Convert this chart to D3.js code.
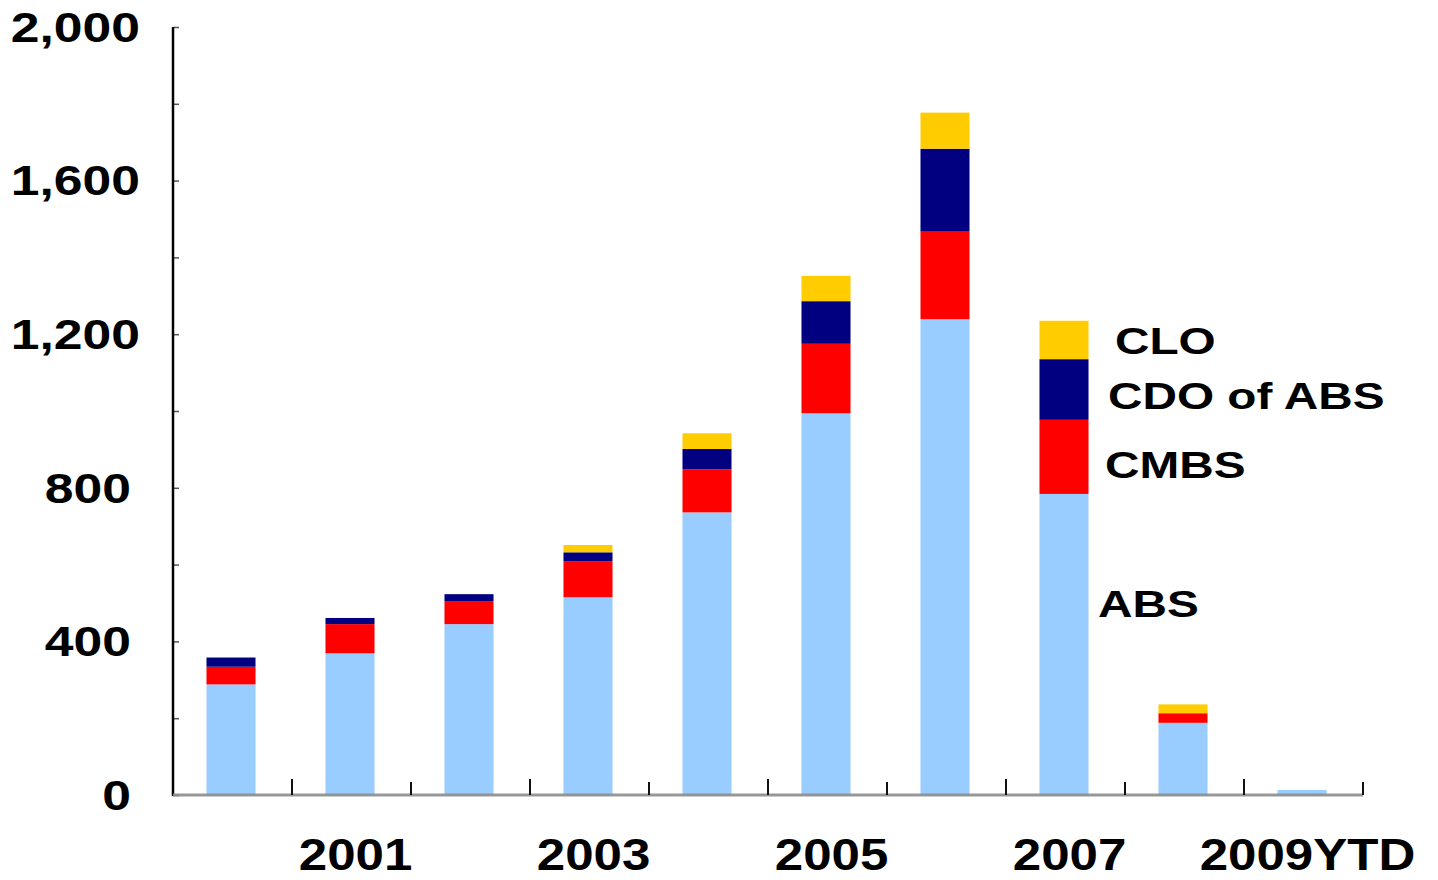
<!DOCTYPE html>
<html>
<head>
<meta charset="utf-8">
<script src="https://cdn.jsdelivr.net/npm/d3@7"></script>
<style>
  html, body { margin: 0; padding: 0; background: #ffffff; }
  svg { display: block; }
  text { font-family: "Liberation Sans", Arial, sans-serif; font-weight: bold; fill: #000; }
</style>
</head>
<body>
<svg id="chart" width="1438" height="880"></svg>
<script>
// ---- data ----
const years = ["2000", "2001", "2002", "2003", "2004", "2005", "2006", "2007", "2008", "2009YTD"];
const xTickLabels = ["2001", "2003", "2005", "2007", "2009YTD"];
const seriesNames = ["ABS", "CMBS", "CDO of ABS", "CLO"];
const absValues  = [288, 369, 445, 515, 736, 994, 1239, 784, 188, 13];
const cmbsValues = [46, 76, 60, 94, 112, 181, 228, 193, 25, 0];
const cdoValues  = [24, 16, 18, 23, 53, 111, 216, 158, 0, 0];
const cloValues  = [0, 0, 0, 19, 41, 66, 94, 100, 23, 0];
const yTickValues = [0, 400, 800, 1200, 1600, 2000];
const yMinorTicks = [0, 200, 400, 600, 800, 1000, 1200, 1400, 1600, 1800, 2000];

// ---- styles / layout ----
const colors = { "ABS": "#99ccff", "CMBS": "#ff0000", "CDO of ABS": "#000080", "CLO": "#ffcc00" };
const legendAnchor = { "CLO": 1181, "CDO of ABS": 1039, "CMBS": 859, "ABS": 498 };
const legendX = { "CLO": 1115, "CDO of ABS": 1108, "CMBS": 1105, "ABS": 1098 };

const svg = d3.select("#chart");
const x0 = 173, x1 = 1363, yTop = 27, yBot = 795;

const x = d3.scaleBand().domain(years).range([x0, x1]).paddingInner(0.588).paddingOuter(0.294);
const y = d3.scaleLinear().domain([0, 2000]).range([yBot, yTop]);

const table = years.map((yr, i) => ({
  year: yr,
  "ABS": absValues[i], "CMBS": cmbsValues[i], "CDO of ABS": cdoValues[i], "CLO": cloValues[i]
}));
const stacked = d3.stack().keys(seriesNames)(table);

// bars
svg.append("g").selectAll("g")
  .data(stacked).join("g")
  .attr("fill", d => colors[d.key])
  .selectAll("rect")
  .data(d => d).join("rect")
  .attr("x", d => x(d.data.year) - 1.5)
  .attr("width", x.bandwidth())
  .attr("y", d => y(d[1]))
  .attr("height", d => Math.max(0, y(d[0]) - y(d[1])));

// y axis
const yAxis = svg.append("g").attr("transform", `translate(${x0},0)`)
  .call(d3.axisRight(y).tickValues(yMinorTicks).tickSize(6).tickFormat(""));
yAxis.select(".domain").remove();
yAxis.selectAll(".tick line").attr("stroke", "#555").attr("stroke-width", 1.5);
svg.append("line").attr("x1", x0).attr("x2", x0).attr("y1", yTop).attr("y2", yBot + 1)
  .attr("stroke", "#000").attr("stroke-width", 2.5);

// y labels
svg.append("g").selectAll("text")
  .data(yTickValues).join("text")
  .attr("transform", d => `translate(${d >= 1000 ? 140 : 131},${y(d)}) scale(1.23,1)`)
  .attr("text-anchor", "end")
  .attr("dominant-baseline", "central")
  .attr("font-size", 42)
  .text(d => d3.format(",")(d));

// x axis line
svg.append("line").attr("x1", x0).attr("x2", x1).attr("y1", yBot).attr("y2", yBot)
  .attr("stroke", "#8c8c8c").attr("stroke-width", 3).attr("stroke-opacity", 0.9);

// x tick marks at band boundaries
const step = x.step();
const boundaries = d3.range(1, years.length + 1).map(k => years[k - 1]);
svg.append("g").selectAll("line")
  .data(boundaries).join("line")
  .attr("x1", d => x(d) + x.bandwidth() / 2 + step / 2)
  .attr("x2", d => x(d) + x.bandwidth() / 2 + step / 2)
  .attr("y1", yBot)
  .attr("y2", (d, i) => yBot - (i % 2 === 0 ? 16 : 13))
  .attr("stroke", "#111").attr("stroke-width", 2);

// x labels
svg.append("g").selectAll("text")
  .data(xTickLabels).join("text")
  .attr("transform", d => `translate(${x(d) + x.bandwidth() / 2 + 4},870) scale(1.16,1)`)
  .attr("text-anchor", "middle")
  .attr("font-size", 44)
  .text(d => d);

// series labels
svg.append("g").selectAll("text")
  .data(seriesNames).join("text")
  .attr("transform", d => `translate(${legendX[d]},${y(legendAnchor[d])}) scale(1.29,1)`)
  .attr("dominant-baseline", "central")
  .attr("font-size", 37)
  .text(d => d);
</script>
</body>
</html>
